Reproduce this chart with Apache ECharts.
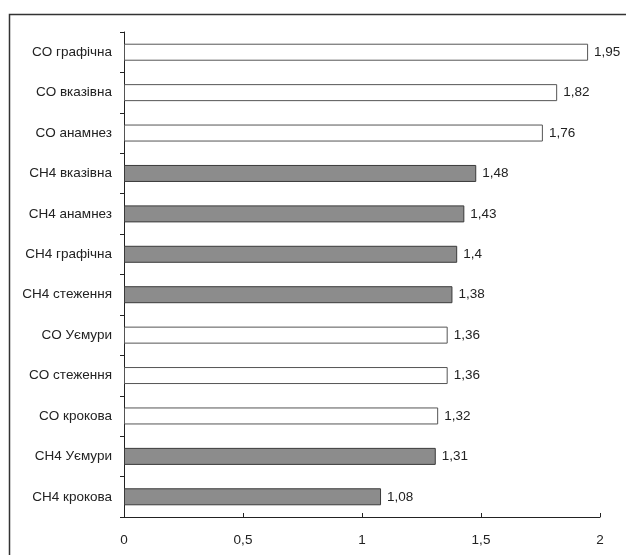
<!DOCTYPE html>
<html><head><meta charset="utf-8">
<script src="https://cdn.jsdelivr.net/npm/echarts@6/dist/echarts.min.js"></script>
<style>html,body{margin:0;padding:0;background:#fff}#c{width:626px;height:555px}</style>
</head><body><div id="c"></div>
<script>
// top-to-bottom order
const categories = ['CO графічна','CO вказівна','CO анамнез','CH4 вказівна','CH4 анамнез','CH4 графічна','CH4 стеження','CO Уємури','CO стеження','CO крокова','CH4 Уємури','CH4 крокова'];
const values = [1.95,1.82,1.76,1.48,1.43,1.4,1.38,1.36,1.36,1.32,1.31,1.08];
const groups = ['CO','CO','CO','CH4','CH4','CH4','CH4','CO','CO','CO','CH4','CH4'];
const xTicks = [0,0.5,1,1.5,2];

const fillFor = {CO:'#ffffff', CH4:'#8c8c8c'};
const borderFor = {CO:'#555555', CH4:'#3a3a3a'};
const fmt = v => String(v).replace('.', ',');

const chart = echarts.init(document.getElementById('c'), null, {renderer:'canvas'});
chart.setOption({
  animation:false,
  backgroundColor:'#fff',
  textStyle:{fontFamily:'Liberation Sans, Arial, sans-serif'},
  graphic:[{type:'rect', left:7, top:12, shape:{width:700,height:600}, style:{fill:'none', stroke:'#333', lineWidth:1.5}, z:-1}],
  grid:{left:124, right:26, top:32, bottom:38, containLabel:false},
  xAxis:{type:'value', min:xTicks[0], max:xTicks[xTicks.length-1], interval:0.5,
    axisLine:{show:true, lineStyle:{color:'#222', width:1}},
    axisTick:{show:true, inside:true, length:4, lineStyle:{color:'#222'}},
    splitLine:{show:false},
    axisLabel:{color:'#222', fontSize:13.5, margin:16, formatter:v=>fmt(v)}},
  yAxis:{type:'category', inverse:true, data:categories,
    axisLine:{show:true, lineStyle:{color:'#222', width:1}},
    axisTick:{show:true, length:4, lineStyle:{color:'#222'}},
    axisLabel:{color:'#222', fontSize:13.5, margin:12}},
  series:[{type:'bar', barWidth:17,
    data: values.map((v,i)=>({value:v, itemStyle:{color:fillFor[groups[i]], borderColor:borderFor[groups[i]], borderWidth:1}})),
    label:{show:true, position:'right', distance:6, color:'#222', fontSize:13.5, formatter:p=>fmt(p.value)}}]
});
</script></body></html>
